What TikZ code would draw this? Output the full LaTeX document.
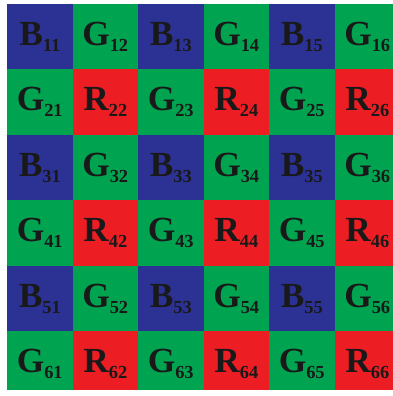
\documentclass[tikz,border=0pt]{standalone}
\usepackage{fontspec}
\setmainfont{Liberation Serif}
\definecolor{bayerB}{RGB}{44,50,148}
\definecolor{bayerG}{RGB}{0,164,80}
\definecolor{bayerR}{RGB}{236,30,36}
\begin{document}
\begin{tikzpicture}[x=1.5cm,y=-1.5cm,
  cell/.style={minimum size=1.5cm, inner sep=0pt, text=black!90,
    font=\fontsize{23}{23}\selectfont\bfseries}]
\fill[white] (0,0) rectangle (6,6.046);
\begin{scope}
\clip (0,0) rectangle (6,5.954);
\foreach \i in {1,...,6}{
  \foreach \j in {1,...,6}{
    \pgfmathtruncatemacro\k{mod(\i,2)*2+mod(\j,2)}
    \ifcase\k \def\L{R}\or\def\L{G}\or\def\L{G}\or\def\L{B}\fi
    \node[cell, fill=bayer\L] (c\i\j) at ({0.107+\j-0.5},{0.061+\i-0.5})
      {\L\raisebox{-4pt}{\fontsize{12}{12}\selectfont\i\j}};
  }
}
\end{scope}
\end{tikzpicture}
\end{document}
